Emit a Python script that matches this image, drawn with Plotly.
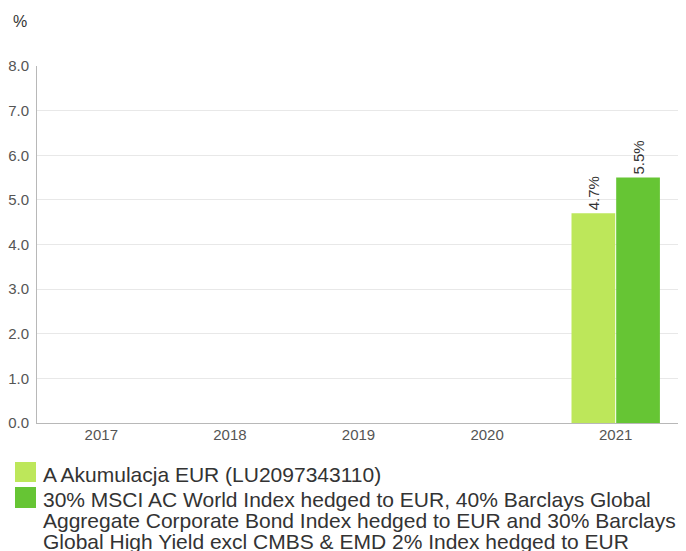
import plotly.graph_objects as go

years = ["2017", "2018", "2019", "2020", "2021"]
fund_values = [None, None, None, None, 4.7]
index_values = [None, None, None, None, 5.5]
fund_name = "A Akumulacja EUR (LU2097343110)"
index_lines = [
    "30% MSCI AC World Index hedged to EUR, 40% Barclays Global",
    "Aggregate Corporate Bond Index hedged to EUR and 30% Barclays",
    "Global High Yield excl CMBS & EMD 2% Index hedged to EUR",
]
LIGHT = "#bde75a"
DARK = "#66c534"
FONT = "Liberation Sans, Arial, sans-serif"

# page pixels; the html body adds an 8px margin around the figure
OFF = 8
L, R, T, B = 37, 680, 66, 423
W, H = R - L, B - T


def px(x):
    return (x - L) / W


def py(y):
    return (B - y) / H


def labels(vals):
    return [f"{v:.1f}%" if v is not None else "" for v in vals]


fig = go.Figure()
for vals, name, color in [(fund_values, fund_name, LIGHT),
                          (index_values, " ".join(index_lines), DARK)]:
    fig.add_trace(go.Bar(
        x=years, y=vals, name=name,
        marker=dict(color=color, line=dict(width=0)),
        text=labels(vals), textposition="outside", textangle=-90,
        textfont=dict(size=15, color="#333333"), cliponaxis=False,
    ))

# legend: squares + text
shapes = []
annotations = []
for (y0, y1), color in [((462, 482), LIGHT), ((487, 508), DARK)]:
    shapes.append(dict(type="rect", xref="paper", yref="paper",
                       x0=px(15), x1=px(36), y0=py(y1), y1=py(y0),
                       fillcolor=color, line=dict(width=0)))
legend_rows = [(fund_name, 473.5)] + list(zip(index_lines, [498.5, 519.5, 540.5]))
for text, yc in legend_rows:
    annotations.append(dict(text=text, xref="paper", yref="paper",
                            x=px(41), y=py(yc + 1), xanchor="left", yanchor="middle",
                            showarrow=False, font=dict(family=FONT, size=21, color="#333333")))
annotations.append(dict(text="%", xref="paper", yref="paper", x=px(11), y=py(21),
                        xanchor="left", yanchor="middle", showarrow=False,
                        font=dict(family=FONT, size=16, color="#333333")))

fig.update_layout(
    width=686, height=551,
    margin=dict(l=L - OFF, r=686 - R + OFF, t=T - OFF, b=551 - B + OFF, autoexpand=False),
    plot_bgcolor="white", paper_bgcolor="white",
    font=dict(family=FONT, size=15, color="#555555"),
    barmode="group", bargap=0.305, bargroupgap=0.022,
    showlegend=False,
    shapes=shapes,
    annotations=annotations,
)
fig.update_yaxes(
    range=[0, 8], dtick=1, tickformat=".1f",
    showgrid=True, gridcolor="#e8e8e8", gridwidth=1,
    showline=True, linecolor="#b8b8b8", linewidth=1,
    zeroline=False, ticks="", ticklabelstandoff=4,
    tickfont=dict(size=15, color="#555555"),
)
fig.update_xaxes(
    showline=True, linecolor="#b8b8b8", linewidth=1,
    showgrid=False, ticks="", ticklabelstandoff=-2,
    tickfont=dict(size=15, color="#555555"),
)

fig.write_html("out.html")
